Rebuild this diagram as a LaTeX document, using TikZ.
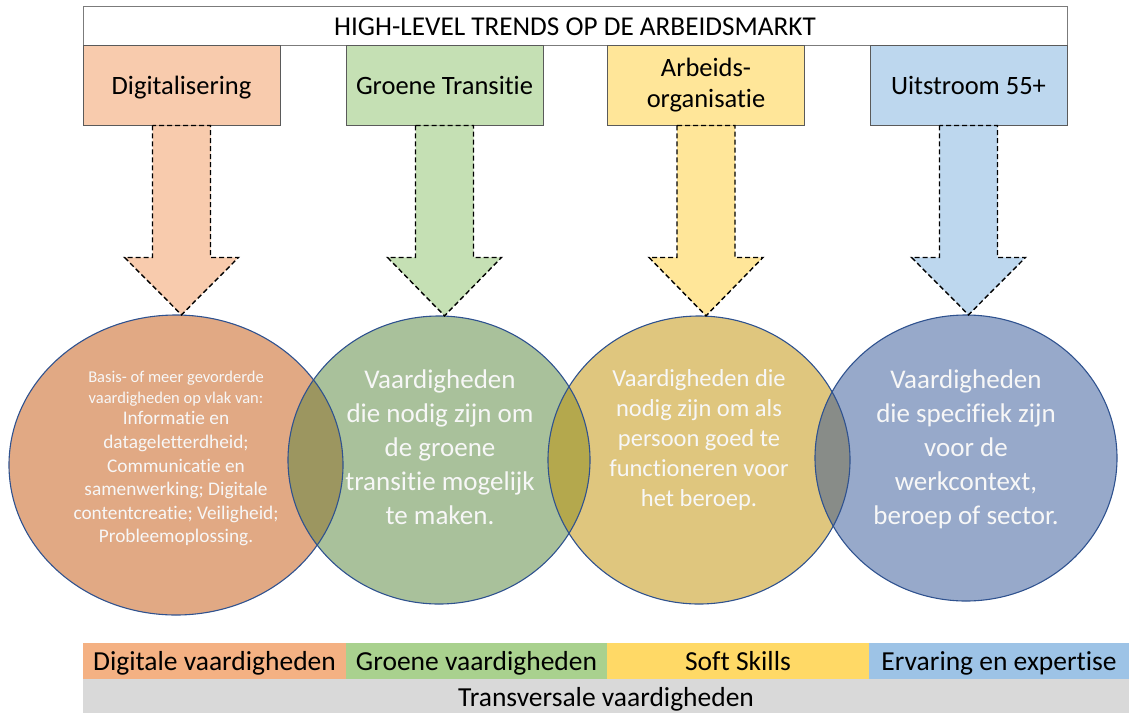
\documentclass[tikz,border=0pt]{standalone}
\usepackage{fontspec}
\setmainfont{Carlito}[Ligatures=NoCommon]
\usetikzlibrary{shapes.geometric,calc}

\definecolor{boxA}{HTML}{F8CBAD}
\definecolor{boxB}{HTML}{C5E0B4}
\definecolor{boxC}{HTML}{FFE699}
\definecolor{boxD}{HTML}{BDD7EE}
\definecolor{ringA}{HTML}{E1A984}
\definecolor{ringB}{HTML}{A9C19B}
\definecolor{ringC}{HTML}{DFC67E}
\definecolor{ringD}{HTML}{97A9CA}
\definecolor{lensAB}{HTML}{9C9660}
\definecolor{lensBC}{HTML}{B4A84D}
\definecolor{lensCD}{HTML}{888C88}
\definecolor{barA}{HTML}{F4B183}
\definecolor{barB}{HTML}{A9D18E}
\definecolor{barC}{HTML}{FFD966}
\definecolor{barD}{HTML}{9DC3E6}
\definecolor{barT}{HTML}{D9D9D9}
\definecolor{edge}{HTML}{2F528F}
\definecolor{frame}{HTML}{5A5A5A}
\definecolor{softwhite}{HTML}{F7F7F7}

\tikzset{
  trendbox/.style={draw=frame, line width=0.9pt, minimum width=197pt, minimum height=80pt,
    inner sep=0pt, align=center, font=\fontsize{26.5}{31}\selectfont},
  oneline/.style={text height=20pt, text depth=2pt},
  headbox/.style={draw=frame!80, line width=0.9pt, fill=white, minimum width=984pt,
    minimum height=39pt, inner sep=0pt, text height=20pt, text depth=1pt,
    font=\fontsize{27.2}{30}\selectfont},
  skillblob/.style={ellipse, inner sep=0pt},
  blobedge/.style={draw=edge, line width=1.1pt},
  blobtext/.style={text=softwhite, align=center, inner sep=0pt},
  blockarrow/.style={draw=black, line width=1.4pt, dash pattern=on 5pt off 3pt, line join=miter},
  skillbar/.style={minimum height=36pt, inner sep=0pt, text height=22pt, text depth=4pt,
    font=\fontsize{27.5}{30}\selectfont},
}

% block arrow from a trend box down to a skill ellipse: #1 box, #2 ellipse, #3 fill colour
\newcommand\trendarrow[3]{%
  \draw[blockarrow, fill=#3]
    ($(#1.south)+(-29,0)$) -- ($(#1.south)+(-29,132)$) -- ($(#1.south)+(-57,132)$)
    -- (#1.south |- #2.north)
    -- ($(#1.south)+(57,132)$) -- ($(#1.south)+(29,132)$) -- ($(#1.south)+(29,0)$) -- cycle;}

\begin{document}
\begin{tikzpicture}[x=1pt,y=-1pt]
\useasboundingbox (0,0) rectangle (1129,713);

% title bar and the four trends
\node[headbox] (head) at (575,25.5) {HIGH-LEVEL TRENDS OP DE ARBEIDSMARKT};
\node[trendbox, oneline, fill=boxA] (b1) at (181.5,85) {Digitalisering};
\node[trendbox, oneline, fill=boxB] (b2) at (444.5,85) {Groene Transitie};
\node[trendbox, fill=boxC] (b3) at (706,85) {Arbeids-\\organisatie};
\node[trendbox, oneline, fill=boxD] (b4) at (968.5,85) {Uitstroom 55+};

% skill ellipses
\node[skillblob, fill=ringA, minimum width=334pt, minimum height=300pt] (c1) at (176,465) {};
\node[skillblob, fill=ringB, minimum width=302pt, minimum height=288pt] (c2) at (439,460) {};
\node[skillblob, fill=ringC, minimum width=302pt, minimum height=288pt] (c3) at (699,460) {};
\node[skillblob, fill=ringD, minimum width=302pt, minimum height=286pt] (c4) at (966,458) {};

% overlapping lenses
\begin{scope}
  \clip (c1.center) ellipse [x radius=167, y radius=150];
  \fill[lensAB] (c2.center) ellipse [x radius=151, y radius=144];
\end{scope}
\begin{scope}
  \clip (c2.center) ellipse [x radius=151, y radius=144];
  \fill[lensBC] (c3.center) ellipse [x radius=151, y radius=144];
\end{scope}
\begin{scope}
  \clip (c3.center) ellipse [x radius=151, y radius=144];
  \fill[lensCD] (c4.center) ellipse [x radius=151, y radius=143];
\end{scope}

% outlines
\draw[blobedge] (c1.center) ellipse [x radius=167, y radius=150];
\draw[blobedge] (c2.center) ellipse [x radius=151, y radius=144];
\draw[blobedge] (c3.center) ellipse [x radius=151, y radius=144];
\draw[blobedge] (c4.center) ellipse [x radius=151, y radius=143];

% arrows
\trendarrow{b1}{c1}{boxA}
\trendarrow{b2}{c2}{boxB}
\trendarrow{b3}{c3}{boxC}
\trendarrow{b4}{c4}{boxD}

% texts inside the ellipses
\node[blobtext, font=\fontsize{16.5}{21}\selectfont] (t1a) at (176,389)
  {Basis- of meer gevorderde\\vaardigheden op vlak van:};
\node[blobtext, font=\fontsize{19.3}{23.6}\selectfont] (t1b) at (176,479)
  {Informatie en\\datageletterdheid;\\Communicatie en\\samenwerking; Digitale\\contentcreatie; Veiligheid;\\Probleemoplossing.};
\node[blobtext, font=\fontsize{27}{34}\selectfont] (t2) at (440,447)
  {Vaardigheden\\die nodig zijn om\\de groene\\transitie mogelijk\\te maken.};
\node[blobtext, font=\fontsize{24.5}{30}\selectfont] (t3) at (699,440)
  {Vaardigheden die\\nodig zijn om als\\persoon goed te\\functioneren voor\\het beroep.};
\node[blobtext, font=\fontsize{27}{34}\selectfont] (t4) at (966,449)
  {Vaardigheden\\die specifiek zijn\\voor de\\werkcontext,\\beroep of sector.};

% skill bars
\node[skillbar, fill=barA, minimum width=263pt] (s1) at (214.5,661) {Digitale vaardigheden};
\node[skillbar, fill=barB, minimum width=261pt] (s2) at (476.5,661) {Groene vaardigheden};
\node[skillbar, fill=barC, minimum width=262pt] (s3) at (738,661) {Soft Skills};
\node[skillbar, fill=barD, minimum width=260pt] (s4) at (999,661) {Ervaring en expertise};
\node[skillbar, fill=barT, minimum width=1046pt, minimum height=34pt, text height=23pt, text depth=3pt]
  (s5) at (606,696) {Transversale vaardigheden};
\end{tikzpicture}
\end{document}
